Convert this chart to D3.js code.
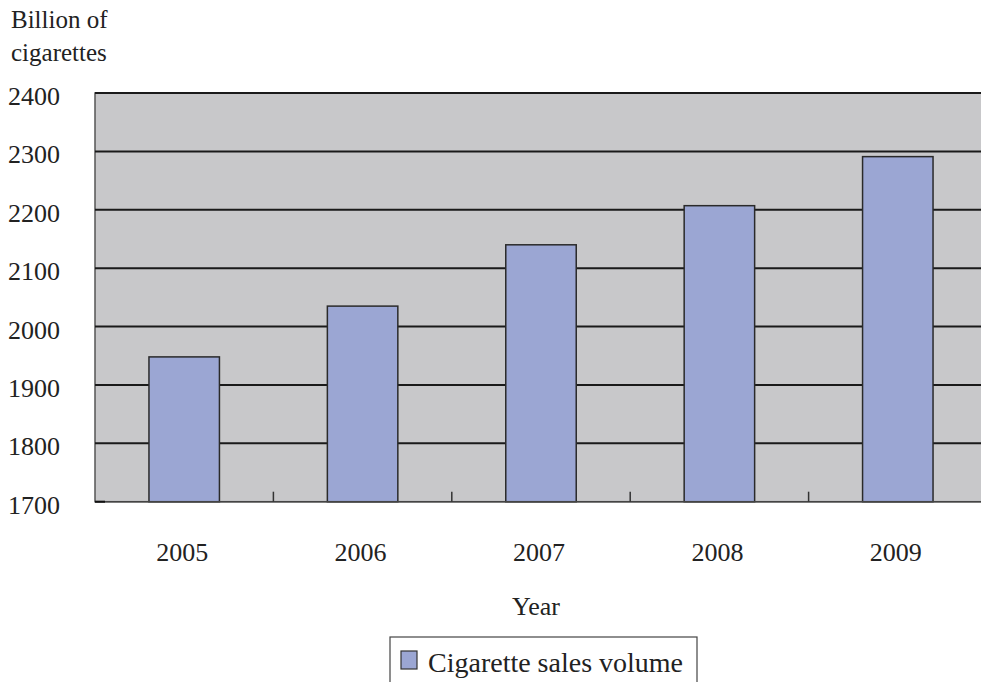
<!DOCTYPE html>
<html>
<head>
<meta charset="utf-8">
<script src="https://cdn.jsdelivr.net/npm/d3@7"></script>
<style>
  body{margin:0;background:#fff;}
  text{font-family:"Liberation Serif","Times New Roman",serif;fill:#222;}
</style>
</head>
<body>
<svg id="chart" width="981" height="682"></svg>
<script>
const years = ["2005","2006","2007","2008","2009"];
const sales = [1948, 2035, 2140, 2207, 2291];
const yTicks = [1700,1800,1900,2000,2100,2200,2300,2400];

const svg = d3.select("#chart");
const plotL=95, plotR=987, plotT=93, plotB=501.7;
const serif = "'Liberation Serif','Times New Roman',serif";

const x = d3.scaleBand().domain(years).range([plotL,plotR]).padding(0);
const y = d3.scaleLinear().domain([1700,2400]).range([plotB,plotT]);
const barW = x.bandwidth()*0.395;

// plot area
svg.append("rect")
  .attr("x",plotL).attr("y",plotT)
  .attr("width",plotR-plotL).attr("height",plotB-plotT)
  .attr("fill","#c8c8ca").attr("stroke","#555").attr("stroke-width",1.5);

// gridlines
svg.selectAll(".grid").data(yTicks.slice(1)).enter().append("line")
  .attr("class","grid")
  .attr("x1",plotL).attr("x2",plotR)
  .attr("y1",d=>y(d)).attr("y2",d=>y(d))
  .attr("stroke","#1a1a1a").attr("stroke-width",2);

// y tick labels
svg.selectAll(".ylab").data(yTicks).enter().append("text")
  .attr("class","ylab")
  .attr("x",8).attr("y",d=>y(d)+12)
  .attr("font-family",serif).attr("font-size",26)
  .text(d=>d);

// bars
svg.selectAll(".bar").data(years).enter().append("rect")
  .attr("class","bar")
  .attr("x",d=>x(d)+(x.bandwidth()-barW)/2)
  .attr("y",(d,i)=>y(sales[i]))
  .attr("width",barW)
  .attr("height",(d,i)=>plotB-y(sales[i]))
  .attr("fill","#9ba6d3").attr("stroke","#2a2a2a").attr("stroke-width",1.5);

// bottom axis line + ticks
svg.append("line")
  .attr("x1",plotL).attr("x2",plotR).attr("y1",plotB).attr("y2",plotB)
  .attr("stroke","#444").attr("stroke-width",1.5);
svg.selectAll(".xtick").data(years.slice(1)).enter().append("line")
  .attr("class","xtick")
  .attr("x1",d=>x(d)).attr("x2",d=>x(d))
  .attr("y1",plotB).attr("y2",plotB-10)
  .attr("stroke","#333").attr("stroke-width",1.5);
svg.append("line")
  .attr("x1",plotL).attr("x2",plotL+10).attr("y1",plotB).attr("y2",plotB)
  .attr("stroke","#111").attr("stroke-width",2);

// x labels
svg.selectAll(".xlab").data(years).enter().append("text")
  .attr("class","xlab")
  .attr("x",d=>x(d)+x.bandwidth()/2-2).attr("y",561)
  .attr("text-anchor","middle")
  .attr("font-family",serif).attr("font-size",26)
  .text(d=>d);

// axis titles
svg.append("text").attr("x",536).attr("y",615)
  .attr("text-anchor","middle")
  .attr("font-family",serif).attr("font-size",26)
  .text("Year");
svg.append("text").attr("x",11).attr("y",28)
  .attr("font-family",serif).attr("font-size",25).text("Billion of");
svg.append("text").attr("x",11).attr("y",61)
  .attr("font-family",serif).attr("font-size",25).text("cigarettes");

// legend
svg.append("rect").attr("x",390).attr("y",637).attr("width",307).attr("height",60)
  .attr("fill","#fff").attr("stroke","#444").attr("stroke-width",1.2);
svg.append("rect").attr("x",401).attr("y",651).attr("width",16).attr("height",18)
  .attr("fill","#9ba6d3").attr("stroke","#333").attr("stroke-width",1.2);
svg.append("text").attr("x",428).attr("y",672)
  .attr("font-family",serif).attr("font-size",28)
  .text("Cigarette sales volume");
</script>
</body>
</html>
